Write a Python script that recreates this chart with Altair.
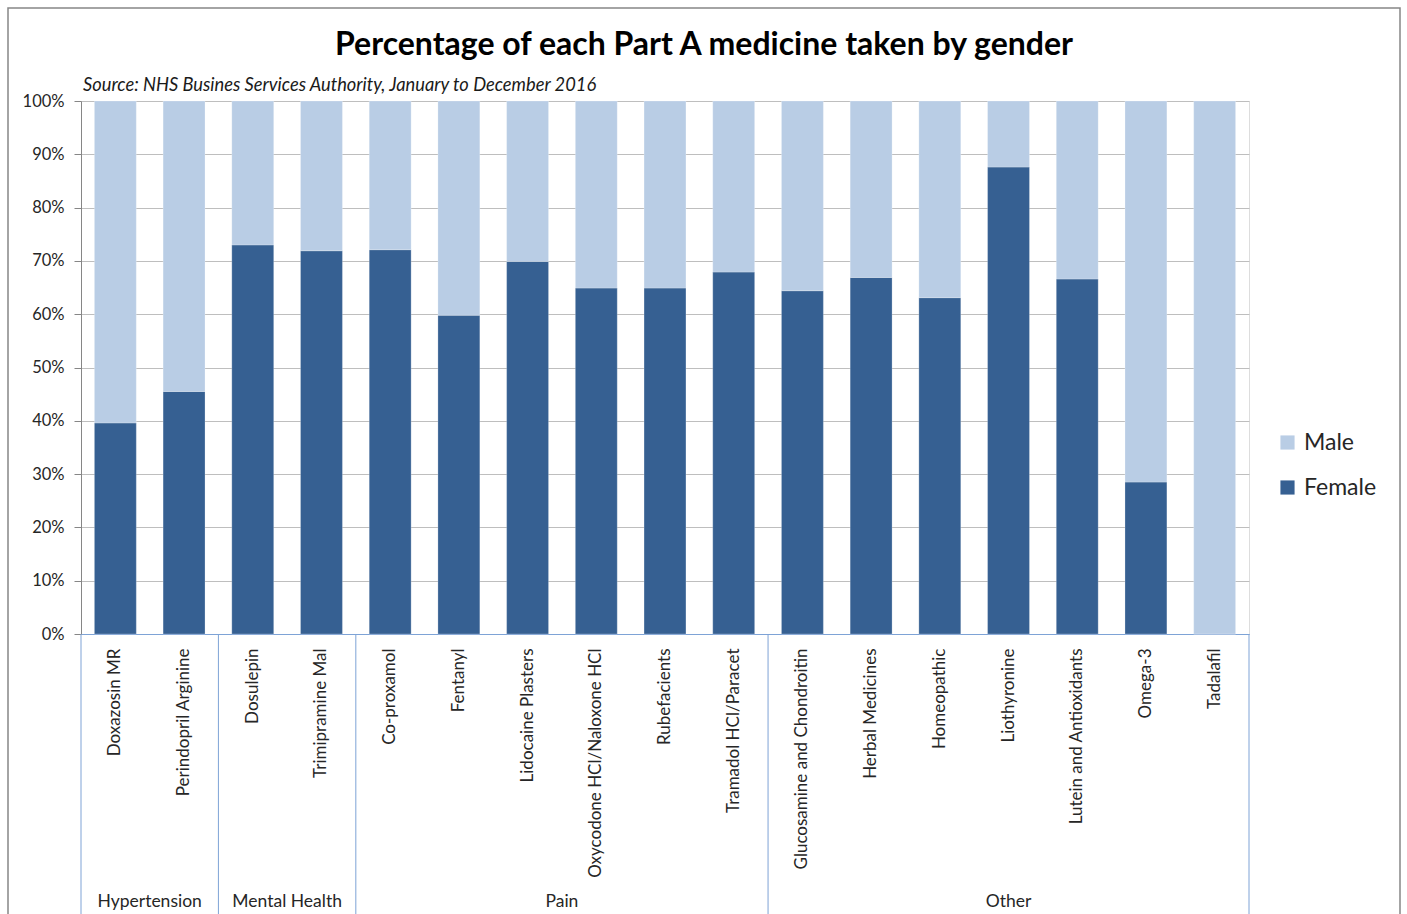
import altair as alt
import pandas as pd

# Medicines, grouped by therapeutic area
medicines = [
    "Doxazosin MR", "Perindopril Arginine",
    "Dosulepin", "Trimipramine Mal",
    "Co-proxamol", "Fentanyl", "Lidocaine Plasters", "Oxycodone HCl/Naloxone HCl",
    "Rubefacients", "Tramadol HCl/Paracet",
    "Glucosamine and Chondroitin", "Herbal Medicines", "Homeopathic", "Liothyronine",
    "Lutein and Antioxidants", "Omega-3", "Tadalafil",
]
groups = ["Hypertension", "Mental Health", "Pain", "Other"]
group_sizes = [2, 2, 6, 7]

# Share of items taken by women (per cent); men make up the remainder
female_pct = [39.6, 45.5, 73.0, 71.9, 72.1, 59.8, 69.9, 64.9, 64.9, 67.9,
              64.4, 66.9, 63.1, 87.6, 66.6, 28.5, 0.0]
male_pct = [round(100 - v, 1) for v in female_pct]

FONT = "Lato"
FEMALE = "#366092"
MALE = "#B9CDE5"
SEP = "#7EA3D6"

W, H = 1168, 533          # plot area
LEFT, TOP = 81, 101

rows = []
for m, f, ml in zip(medicines, female_pct, male_pct):
    rows.append({"medicine": m, "gender": "Female", "share": f / 100, "rank": 0})
    rows.append({"medicine": m, "gender": "Male", "share": ml / 100, "rank": 1})
bars_df = pd.DataFrame(rows)

bars = alt.Chart(bars_df).mark_bar(stroke="white", strokeWidth=0.4, strokeOpacity=0.6).encode(
    x=alt.X("medicine:N", sort=medicines,
            scale=alt.Scale(paddingInner=0.39, paddingOuter=0.195),
            axis=alt.Axis(title=None, labelAngle=270, labelFont=FONT, labelFontSize=17,
                          labelColor="#262626", labelPadding=14, ticks=False,
                          domainColor=SEP, domainWidth=1, labelLimit=300)),
    y=alt.Y("share:Q", stack="zero",
            scale=alt.Scale(domain=[0, 1], nice=False),
            axis=alt.Axis(title=None, format="%", values=[i / 10 for i in range(11)],
                          labelFont=FONT, labelFontSize=16.5, labelColor="#262626",
                          tickSize=7, tickColor="#868686", labelPadding=10,
                          domainColor="#868686", gridColor="#BEBEBE", gridWidth=1.2)),
    color=alt.Color("gender:N", scale=alt.Scale(domain=["Male", "Female"], range=[MALE, FEMALE]),
                    legend=alt.Legend(title=None, orient="none", legendX=1195, legendY=330,
                                      symbolType="square", symbolSize=200, symbolStrokeWidth=0,
                                      labelFont=FONT, labelFontSize=23, labelColor="#262626",
                                      rowPadding=21, labelOffset=5)),
    order=alt.Order("rank:Q", sort="ascending"),
)

# Group separators below the axis and group names
starts = [sum(group_sizes[:i]) for i in range(len(group_sizes))]
bounds_df = pd.DataFrame({"pos": starts + [sum(group_sizes)]})
labels_df = pd.DataFrame({"group": groups,
                          "mid": [s + n / 2 for s, n in zip(starts, group_sizes)]})

xq = alt.X("pos:Q", scale=alt.Scale(domain=[0, len(medicines)], nice=False, zero=True), axis=None)
seps = alt.Chart(bounds_df).mark_rule(color=SEP, strokeWidth=1).encode(
    x=xq, y=alt.value(H), y2=alt.value(H + 290))
group_text = alt.Chart(labels_df).mark_text(font=FONT, fontSize=17.5, color="#262626", baseline="middle").encode(
    x=alt.X("mid:Q", scale=alt.Scale(domain=[0, len(medicines)], nice=False, zero=True), axis=None),
    y=alt.value(801), text="group:N")

# Headline, source note and chart frame
title_df = pd.DataFrame({"t": ["Percentage of each Part A medicine taken by gender"]})
title = alt.Chart(title_df).mark_text(font=FONT, fontSize=32, fontWeight="bold", color="black",
                                      align="center", baseline="middle").encode(
    x=alt.value(704 - LEFT), y=alt.value(45 - TOP), text="t:N")
src_df = pd.DataFrame({"t": ["Source: NHS Busines Services Authority, January to December 2016"]})
source = alt.Chart(src_df).mark_text(font=FONT, fontSize=18.3, fontStyle="italic", color="#1a1a1a",
                                     align="left", baseline="middle").encode(
    x=alt.value(83 - LEFT), y=alt.value(86 - TOP), text="t:N")
frame = alt.Chart(title_df).mark_rect(fill=None, stroke="#868686", strokeWidth=1.5).encode(
    x=alt.value(8 - LEFT), x2=alt.value(1400 - LEFT), y=alt.value(8 - TOP), y2=alt.value(930 - TOP))

chart = alt.layer(bars, seps, group_text, title, source, frame).resolve_scale(x="independent").properties(
    width=W, height=H,
    autosize=alt.AutoSizeParams(type="none"),
    padding={"left": LEFT, "top": TOP, "right": 1407 - LEFT - W, "bottom": 914 - TOP - H},
).configure_view(stroke=None).configure(background="white")

chart.save("out.html", embed_options={"renderer": "svg", "actions": False})
